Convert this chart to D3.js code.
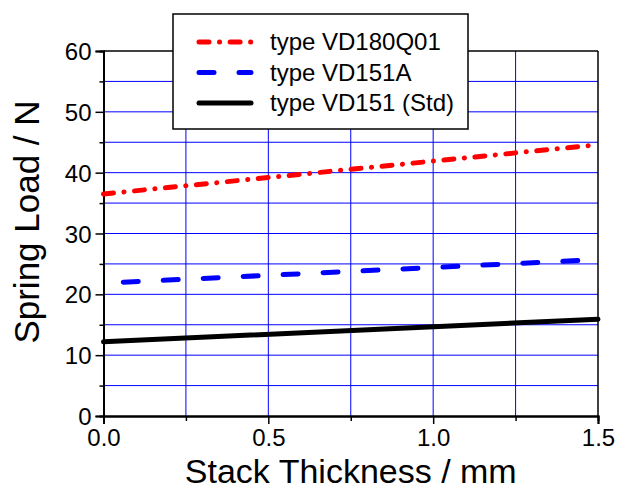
<!DOCTYPE html>
<html>
<head>
<meta charset="utf-8">
<script src="https://cdn.jsdelivr.net/npm/d3@7"></script>
<style>
  body { margin: 0; background: #fff; }
  text { font-family: "Liberation Sans", Arial, sans-serif; }
</style>
</head>
<body>
<div id="chart"></div>
<script>
// data
var seriesNames = ["type VD180Q01", "type VD151A", "type VD151 (Std)"];
var redX = [0.0, 1.5];
var redY = [36.5, 44.6];
var blueX = [0.06, 1.5];
var blueY = [22.0, 25.7];
var blackX = [0.0, 1.5];
var blackY = [12.2, 15.9];
var xTicks = [0.0, 0.5, 1.0, 1.5];
var yTicks = [0, 10, 20, 30, 40, 50, 60];

// set the dimensions and margins of the graph
var margin = {top: 51, right: 20, bottom: 74, left: 103.5},
    width = 618 - margin.left - margin.right,
    height = 490 - margin.top - margin.bottom;

var svg = d3.select("#chart")
  .append("svg")
    .attr("width", 618)
    .attr("height", 490)
  .append("g")
    .attr("transform", "translate(" + margin.left + "," + margin.top + ")");

var x = d3.scaleLinear().domain([0, 1.5]).range([0, 494.5]);
var y = d3.scaleLinear().domain([0, 60]).range([365, 0]);
var W = x(1.5), H = y(0);

// blue grid
svg.append("g").selectAll("line.h")
  .data(d3.range(5, 60, 5))
  .enter().append("line")
    .attr("x1", 0).attr("x2", W)
    .attr("y1", function(d) { return y(d); })
    .attr("y2", function(d) { return y(d); })
    .style("stroke", "#0000ff").style("stroke-width", 1);
svg.append("g").selectAll("line.v")
  .data(d3.range(0.25, 1.5, 0.25))
  .enter().append("line")
    .attr("y1", 0).attr("y2", H)
    .attr("x1", function(d) { return x(d); })
    .attr("x2", function(d) { return x(d); })
    .style("stroke", "#0000ff").style("stroke-width", 1);

// frame top / right
svg.append("line").attr("x1", 0).attr("x2", W).attr("y1", 0).attr("y2", 0)
  .style("stroke", "#000").style("stroke-width", 1.5);
svg.append("line").attr("x1", W).attr("x2", W).attr("y1", 0).attr("y2", H)
  .style("stroke", "#000").style("stroke-width", 1.5);

// axes
var xAxis = svg.append("g")
  .attr("transform", "translate(0," + H + ")")
  .call(d3.axisBottom(x).tickValues(xTicks).tickFormat(d3.format(".1f")).tickSizeOuter(0).tickSize(8).tickPadding(5));
var yAxis = svg.append("g")
  .call(d3.axisLeft(y).tickValues(yTicks).tickSizeOuter(0).tickSize(8).tickPadding(4));
// minor ticks
svg.append("g").attr("transform", "translate(0," + H + ")")
  .call(d3.axisBottom(x).tickValues([0.25, 0.75, 1.25]).tickFormat("").tickSizeOuter(0).tickSize(5));
svg.append("g")
  .call(d3.axisLeft(y).tickValues(d3.range(5, 60, 10)).tickFormat("").tickSizeOuter(0).tickSize(4));

svg.selectAll(".domain").style("stroke", "#000").style("stroke-width", 2);
svg.selectAll(".tick line").style("stroke", "#000").style("stroke-width", 1.5);
svg.selectAll(".tick text")
  .style("font-family", "'Liberation Sans', Arial, sans-serif")
  .style("font-size", "24px").style("fill", "#000");
yAxis.selectAll(".tick text").attr("dy", "0.36em");

// lines
var line = d3.line()
  .x(function(d) { return x(d[0]); })
  .y(function(d) { return y(d[1]); });

function draw(xs, ys, color, dash) {
  svg.append("path")
    .datum(d3.zip(xs, ys))
    .attr("d", line)
    .style("fill", "none")
    .style("stroke", color)
    .style("stroke-width", 5)
    .style("stroke-linecap", "round")
    .style("stroke-dasharray", dash);
}
draw(blackX, blackY, "#000", null);
draw(blueX, blueY, "#0000ff", "15,25");
draw(redX, redY, "#ff0000", "10,10.5,0.1,10.5");

// axis titles
svg.append("text")
  .attr("x", W / 2).attr("y", 482.5 - margin.top)
  .attr("text-anchor", "middle")
  .style("font-size", "34px")
  .text("Stack Thickness / mm");
svg.append("text")
  .attr("transform", "translate(" + (39 - margin.left) + "," + (222 - margin.top) + ") rotate(-90)")
  .attr("text-anchor", "middle")
  .style("font-size", "35px")
  .text("Spring Load / N");

// legend
var leg = svg.append("g").attr("transform", "translate(" + (173 - margin.left) + "," + (14 - margin.top) + ")");
leg.append("rect")
  .attr("width", 295).attr("height", 115)
  .style("fill", "#fff").style("stroke", "#000").style("stroke-width", 1.5);
var legColors = ["#ff0000", "#0000ff", "#000"];
var legDash = ["10,10.5,0.1,10.5", "15,25", null];
seriesNames.forEach(function(name, i) {
  var ly = 28 + i * 30.5;
  leg.append("line")
    .attr("x1", 26).attr("x2", 78).attr("y1", ly).attr("y2", ly)
    .style("stroke", legColors[i]).style("stroke-width", 5)
    .style("stroke-linecap", "round")
    .style("stroke-dasharray", legDash[i]);
  leg.append("text")
    .attr("x", 97).attr("y", ly).attr("dy", "0.35em")
    .style("font-size", "24px")
    .text(name);
});
</script>
</body>
</html>
